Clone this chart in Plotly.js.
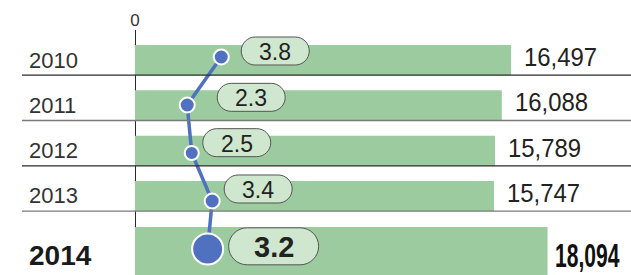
<!DOCTYPE html>
<html>
<head>
<meta charset="utf-8">
<script src="https://cdn.plot.ly/plotly-3.0.1.min.js"></script>
<style>html,body{margin:0;padding:0;background:#fff;}#chart{width:631px;height:275px;}</style>
</head>
<body>
<div id="chart"></div>
<script>
// ---- data ----
var years = ["2010", "2011", "2012", "2013", "2014"];
var values = [16497, 16088, 15789, 15747, 18094];
var rates = [3.8, 2.3, 2.5, 3.4, 3.2];
var axisTickVals = [0];
var axisTickText = ["0"];

// ---- layout helpers (styles / offsets) ----
var W = 631, H = 275;
var pillDx = [54, 64, 45, 46, 66];
var pillDy = [9, 8, 8, 7, -5];
var isMain = function (i) { return i === years.length - 1; };

function pillPath(cx, cy, w, h) {
  var r = h / 2, k = 0.5523 * r;
  var x0 = cx - w / 2, x1 = cx + w / 2, y0 = cy - h / 2, y1 = cy + h / 2;
  return "M" + (x0 + r) + "," + y1 +
    " L" + (x1 - r) + "," + y1 +
    " C" + (x1 - r + k) + "," + y1 + " " + x1 + "," + (cy + k) + " " + x1 + "," + cy +
    " C" + x1 + "," + (cy - k) + " " + (x1 - r + k) + "," + y0 + " " + (x1 - r) + "," + y0 +
    " L" + (x0 + r) + "," + y0 +
    " C" + (x0 + r - k) + "," + y0 + " " + x0 + "," + (cy - k) + " " + x0 + "," + cy +
    " C" + x0 + "," + (cy + k) + " " + (x0 + r - k) + "," + y1 + " " + (x0 + r) + "," + y1 + " Z";
}

var barWidths = years.map(function (y, i) { return isMain(i) ? 1.3 : 0.662; });
var barOffsets = years.map(function (y, i) { return isMain(i) ? -0.316 : -0.331; });
var markerSizes = years.map(function (y, i) { return isMain(i) ? 31 : 15; });
markerSizes[2] = 14;

var bars = {
  type: "bar", orientation: "h",
  x: values, y: years,
  width: barWidths, offset: barOffsets,
  marker: { color: "#9ccb9f", line: { width: 0 } },
  hoverinfo: "skip", xaxis: "x", yaxis: "y"
};
var line = {
  type: "scatter", mode: "lines+markers",
  x: rates, y: years, xaxis: "x2", yaxis: "y2",
  line: { color: "#5070c0", width: 3.5 },
  marker: { color: "#5070c0", opacity: 1, size: markerSizes, line: { color: "#ffffff", width: 2 } },
  opacity: 1, cliponaxis: false, hoverinfo: "skip"
};

var shapes = [];
var annotations = [];
var valueAnn = [];   // [annotation index, horizontal squeeze]
var sepColors = ["#2a2a2a", "#7a7a7a", "#2a2a2a", "#7a7a7a"];
for (var s = 0; s < years.length - 1; s++) {
  shapes.push({
    type: "line", xref: "paper", yref: "y", layer: "above",
    x0: 22 / W, x1: 1, y0: s + 0.335, y1: s + 0.335,
    line: { color: sepColors[s], width: 1.3 }
  });
}
years.forEach(function (yr, i) {
  var main = isMain(i);
  var w = main ? 90 : 68, h = main ? 37 : 28;
  shapes.push({
    type: "path", xref: "x2", yref: "y", layer: "above",
    xsizemode: "pixel", ysizemode: "pixel",
    xanchor: rates[i], yanchor: i,
    path: pillPath(pillDx[i], pillDy[i], w, h),
    fillcolor: "#cfe7cf", line: { color: "#555555", width: 1 }
  });
  annotations.push({
    xref: "x2", yref: "y", x: rates[i], y: i,
    xshift: pillDx[i], yshift: pillDy[i] - 1,
    text: rates[i].toFixed(1), showarrow: false,
    font: { family: "Liberation Sans, Arial, sans-serif", size: main ? 29 : 23, color: "#222", weight: main ? 700 : 400 }
  });
  annotations.push({
    xref: "paper", yref: "y", x: 27 / W, y: i, xanchor: "left",
    yshift: main ? -14 : 0,
    text: yr, showarrow: false,
    font: { family: "Liberation Sans, Arial, sans-serif", size: main ? 28 : 22, color: main ? "#1a1a1a" : "#333", weight: main ? 700 : 400 }
  });
  valueAnn.push([annotations.length, main ? 0.62 : 0.92]);
  annotations.push({
    xref: "x", yref: "y", x: values[i], y: i, xanchor: "left",
    xshift: main ? 5 : 11, yshift: main ? -14 : 3,
    text: values[i].toLocaleString("en-US"), showarrow: false,
    font: { family: "Liberation Sans, Arial, sans-serif", size: main ? 34 : 26, color: main ? "#111" : "#222", weight: main ? 700 : 400 }
  });
});

var bPx = 0.0228, lPx = 22.7, x0px = 135;
var layout = {
  width: W, height: H,
  margin: { l: 0, r: 0, t: 30, b: 0, pad: 0 },
  paper_bgcolor: "#ffffff", plot_bgcolor: "#ffffff",
  showlegend: false,
  xaxis: {
    range: [-x0px / bPx, (W - x0px) / bPx], side: "top",
    tickvals: axisTickVals, ticktext: axisTickText, ticks: "",
    showgrid: false, zeroline: true, zerolinecolor: "#2a2a2a", zerolinewidth: 1,
    showline: false, fixedrange: true,
    tickfont: { family: "Liberation Sans, Arial, sans-serif", size: 17, color: "#333" }
  },
  xaxis2: {
    overlaying: "x", range: [-x0px / lPx, (W - x0px) / lPx],
    visible: false, fixedrange: true
  },
  yaxis: {
    type: "category", categoryorder: "array", categoryarray: years,
    range: [4.743, -0.662], visible: false, fixedrange: true
  },
  yaxis2: {
    type: "category", categoryorder: "array", categoryarray: years,
    overlaying: "y", range: [4.5417, -0.5625], visible: false, fixedrange: true
  },
  shapes: shapes, annotations: annotations
};

Plotly.newPlot("chart", [bars, line], layout, { displayModeBar: false, staticPlot: true })
  .then(function (gd) {
    // condensed look for the value labels (the reference uses a narrow typeface)
    var groups = gd.querySelectorAll(".annotation");
    valueAnn.forEach(function (pair) {
      var g = groups[pair[0]];
      if (!g) return;
      var t = g.querySelector("text");
      if (!t) return;
      var bb = t.getBBox();
      var x = bb.x;
      t.setAttribute("transform", "translate(" + x + ",0) scale(" + pair[1] + ",1) translate(" + (-x) + ",0)");
    });
  });
</script>
</body>
</html>
